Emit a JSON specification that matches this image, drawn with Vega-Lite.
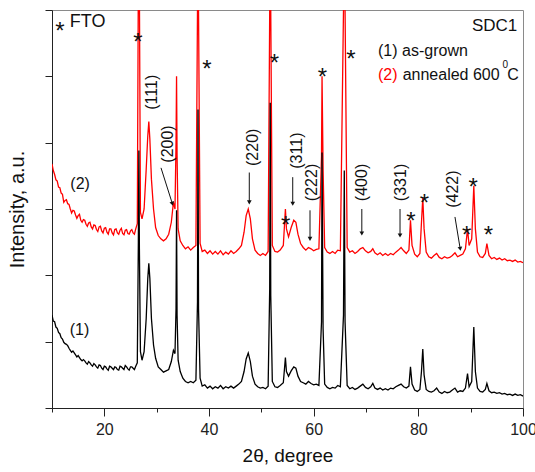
{
"$schema": "https://vega.github.io/schema/vega-lite/v6.json",
"width": 471, "height": 398,
"autosize": {"type": "none"},
"padding": {"left": 52, "top": 10, "right": 12, "bottom": 64},
"background": "white",
"config": {"font": "Liberation Sans", "view": {"stroke": "#8a8a8a", "strokeWidth": 1}},
"datasets": {
"c1": [
{"t":10.0,"i":1.40},{"t":10.25,"i":1.31},{"t":10.5,"i":1.30},{"t":10.75,"i":1.22},{"t":11.0,"i":1.20},{"t":11.25,"i":1.14},{"t":11.5,"i":1.12},{"t":11.75,"i":1.06},{"t":12.0,"i":1.04},{"t":12.5,"i":0.97},{"t":13.0,"i":0.94},{"t":13.5,"i":0.87},{"t":14.0,"i":0.86},{"t":14.5,"i":0.80},{"t":15.0,"i":0.79},{"t":15.5,"i":0.73},{"t":16.0,"i":0.73},{"t":16.5,"i":0.68},{"t":17.0,"i":0.70},{"t":17.5,"i":0.65},{"t":18.0,"i":0.67},{"t":18.5,"i":0.62},{"t":19.0,"i":0.65},{"t":19.5,"i":0.60},{"t":20.0,"i":0.63},{"t":20.5,"i":0.59},{"t":21.0,"i":0.63},{"t":21.5,"i":0.60},{"t":22.0,"i":0.62},{"t":22.5,"i":0.58},{"t":23.0,"i":0.63},{"t":23.5,"i":0.60},{"t":24.0,"i":0.64},{"t":24.5,"i":0.59},{"t":25.0,"i":0.62},{"t":25.5,"i":0.60},{"t":26.0,"i":0.63},{"t":26.3,"i":0.68},{"t":26.5,"i":2.5},{"t":26.6,"i":3.88},{"t":26.7,"i":2.4},{"t":26.9,"i":0.85},{"t":27.2,"i":0.72},{"t":27.6,"i":0.85},{"t":28.0,"i":1.35},{"t":28.3,"i":1.95},{"t":28.5,"i":2.18},{"t":28.7,"i":1.95},{"t":29.0,"i":1.35},{"t":29.4,"i":0.95},{"t":29.8,"i":0.75},{"t":30.3,"i":0.62},{"t":30.8,"i":0.58},{"t":31.3,"i":0.54},{"t":31.8,"i":0.56},{"t":32.3,"i":0.58},{"t":32.8,"i":0.70},{"t":33.2,"i":0.87},{"t":33.5,"i":0.82},{"t":33.7,"i":1.5},{"t":33.8,"i":2.98},{"t":33.9,"i":1.4},{"t":34.1,"i":0.72},{"t":34.5,"i":0.55},{"t":35.0,"i":0.45},{"t":35.5,"i":0.40},{"t":36.0,"i":0.38},{"t":36.5,"i":0.40},{"t":37.0,"i":0.38},{"t":37.5,"i":0.42},{"t":37.8,"i":1.6},{"t":37.9,"i":4.5},{"t":38.0,"i":1.5},{"t":38.3,"i":0.45},{"t":38.7,"i":0.33},{"t":39.2,"i":0.35},{"t":39.7,"i":0.30},{"t":40.2,"i":0.33},{"t":40.7,"i":0.29},{"t":41.2,"i":0.32},{"t":41.7,"i":0.30},{"t":42.2,"i":0.34},{"t":42.7,"i":0.29},{"t":43.2,"i":0.32},{"t":43.7,"i":0.30},{"t":44.2,"i":0.33},{"t":44.7,"i":0.30},{"t":45.2,"i":0.33},{"t":45.7,"i":0.36},{"t":46.2,"i":0.40},{"t":46.7,"i":0.55},{"t":47.1,"i":0.74},{"t":47.5,"i":0.83},{"t":47.9,"i":0.70},{"t":48.3,"i":0.48},{"t":48.8,"i":0.36},{"t":49.3,"i":0.32},{"t":49.8,"i":0.30},{"t":50.3,"i":0.31},{"t":50.8,"i":0.29},{"t":51.3,"i":0.33},{"t":51.6,"i":1.8},{"t":51.7,"i":4.6},{"t":51.8,"i":1.7},{"t":52.1,"i":0.40},{"t":52.6,"i":0.32},{"t":53.1,"i":0.31},{"t":53.6,"i":0.34},{"t":54.2,"i":0.38},{"t":54.6,"i":0.76},{"t":54.8,"i":0.55},{"t":55.2,"i":0.48},{"t":55.7,"i":0.56},{"t":56.2,"i":0.62},{"t":56.6,"i":0.60},{"t":57.0,"i":0.48},{"t":57.5,"i":0.40},{"t":58.0,"i":0.38},{"t":58.5,"i":0.36},{"t":59.0,"i":0.40},{"t":59.5,"i":0.37},{"t":60.0,"i":0.35},{"t":60.5,"i":0.36},{"t":61.0,"i":0.34},{"t":61.5,"i":1.3},{"t":61.6,"i":3.85},{"t":61.8,"i":1.2},{"t":62.1,"i":0.36},{"t":62.6,"i":0.31},{"t":63.1,"i":0.29},{"t":63.6,"i":0.31},{"t":64.1,"i":0.30},{"t":64.6,"i":0.34},{"t":65.1,"i":0.32},{"t":65.7,"i":1.4},{"t":65.85,"i":3.58},{"t":66.0,"i":1.3},{"t":66.4,"i":0.34},{"t":66.9,"i":0.29},{"t":67.4,"i":0.31},{"t":67.9,"i":0.28},{"t":68.4,"i":0.30},{"t":68.9,"i":0.33},{"t":69.4,"i":0.36},{"t":69.9,"i":0.31},{"t":70.4,"i":0.29},{"t":70.9,"i":0.32},{"t":71.3,"i":0.37},{"t":71.7,"i":0.30},{"t":72.2,"i":0.28},{"t":72.7,"i":0.30},{"t":73.2,"i":0.27},{"t":73.7,"i":0.29},{"t":74.2,"i":0.27},{"t":74.7,"i":0.30},{"t":75.2,"i":0.29},{"t":75.7,"i":0.32},{"t":76.2,"i":0.34},{"t":76.7,"i":0.36},{"t":77.2,"i":0.32},{"t":77.7,"i":0.30},{"t":78.2,"i":0.33},{"t":78.5,"i":0.62},{"t":78.8,"i":0.36},{"t":79.3,"i":0.27},{"t":79.8,"i":0.25},{"t":80.3,"i":0.28},{"t":80.6,"i":0.55},{"t":80.85,"i":0.89},{"t":81.1,"i":0.50},{"t":81.5,"i":0.28},{"t":82.0,"i":0.25},{"t":82.5,"i":0.24},{"t":83.0,"i":0.26},{"t":83.5,"i":0.30},{"t":84.0,"i":0.24},{"t":84.5,"i":0.22},{"t":85.0,"i":0.25},{"t":85.5,"i":0.23},{"t":86.0,"i":0.24},{"t":86.5,"i":0.27},{"t":87.0,"i":0.30},{"t":87.5,"i":0.24},{"t":88.0,"i":0.26},{"t":88.5,"i":0.25},{"t":89.0,"i":0.30},{"t":89.4,"i":0.52},{"t":89.7,"i":0.32},{"t":90.2,"i":0.40},{"t":90.6,"i":1.22},{"t":90.9,"i":0.55},{"t":91.3,"i":0.30},{"t":91.8,"i":0.25},{"t":92.3,"i":0.24},{"t":92.8,"i":0.28},{"t":93.1,"i":0.37},{"t":93.5,"i":0.26},{"t":94.0,"i":0.23},{"t":94.5,"i":0.24},{"t":95.0,"i":0.22},{"t":95.5,"i":0.23},{"t":96.0,"i":0.21},{"t":96.5,"i":0.22},{"t":97.0,"i":0.20},{"t":97.5,"i":0.21},{"t":98.0,"i":0.19},{"t":98.5,"i":0.21},{"t":99.0,"i":0.19},{"t":99.5,"i":0.20},{"t":100.0,"i":0.18},
{"t":12.25,"i":0.99},{"t":12.75,"i":0.96},{"t":13.25,"i":0.90},{"t":13.75,"i":0.84},{"t":14.25,"i":0.83},{"t":14.75,"i":0.77},{"t":15.25,"i":0.76},{"t":15.75,"i":0.71},{"t":16.25,"i":0.71},{"t":16.75,"i":0.66},{"t":17.25,"i":0.68},{"t":17.75,"i":0.63},{"t":18.25,"i":0.65},{"t":18.75,"i":0.60},{"t":19.25,"i":0.64},{"t":19.75,"i":0.58},{"t":20.25,"i":0.62},{"t":20.75,"i":0.57},{"t":21.25,"i":0.62},{"t":21.75,"i":0.58},{"t":22.25,"i":0.61},{"t":22.75,"i":0.57},{"t":23.25,"i":0.62},{"t":23.75,"i":0.58},{"t":24.25,"i":0.62},{"t":24.75,"i":0.57},{"t":25.25,"i":0.62},{"t":25.75,"i":0.58}
],
"c2": [
{"t":10.0,"i":3.68},{"t":10.25,"i":3.58},{"t":10.5,"i":3.52},{"t":10.75,"i":3.44},{"t":11.0,"i":3.42},{"t":11.25,"i":3.33},{"t":11.5,"i":3.32},{"t":11.75,"i":3.24},{"t":12.0,"i":3.22},{"t":12.5,"i":3.13},{"t":13.0,"i":3.08},{"t":13.5,"i":3.00},{"t":14.0,"i":2.98},{"t":14.5,"i":2.91},{"t":15.0,"i":2.90},{"t":15.5,"i":2.83},{"t":16.0,"i":2.84},{"t":16.5,"i":2.77},{"t":17.0,"i":2.79},{"t":17.5,"i":2.73},{"t":18.0,"i":2.76},{"t":18.5,"i":2.69},{"t":19.0,"i":2.73},{"t":19.5,"i":2.67},{"t":20.0,"i":2.71},{"t":20.5,"i":2.65},{"t":21.0,"i":2.70},{"t":21.5,"i":2.64},{"t":22.0,"i":2.69},{"t":22.5,"i":2.64},{"t":23.0,"i":2.68},{"t":23.5,"i":2.63},{"t":24.0,"i":2.68},{"t":24.5,"i":2.63},{"t":25.0,"i":2.67},{"t":25.5,"i":2.64},{"t":26.0,"i":2.70},{"t":26.3,"i":2.78},{"t":26.5,"i":6.5},{"t":26.6,"i":9},{"t":26.7,"i":6.3},{"t":26.9,"i":2.95},{"t":27.2,"i":2.85},{"t":27.6,"i":3.0},{"t":28.0,"i":3.6},{"t":28.3,"i":4.1},{"t":28.5,"i":4.32},{"t":28.7,"i":4.05},{"t":29.0,"i":3.45},{"t":29.4,"i":3.0},{"t":29.8,"i":2.72},{"t":30.3,"i":2.60},{"t":30.8,"i":2.55},{"t":31.3,"i":2.52},{"t":31.8,"i":2.55},{"t":32.3,"i":2.62},{"t":32.8,"i":2.80},{"t":33.2,"i":3.10},{"t":33.5,"i":3.00},{"t":33.7,"i":4.0},{"t":33.8,"i":5.0},{"t":33.9,"i":3.8},{"t":34.1,"i":2.70},{"t":34.5,"i":2.52},{"t":35.0,"i":2.45},{"t":35.5,"i":2.40},{"t":36.0,"i":2.43},{"t":36.5,"i":2.38},{"t":37.0,"i":2.42},{"t":37.5,"i":2.45},{"t":37.8,"i":6},{"t":37.9,"i":9},{"t":38.0,"i":6},{"t":38.3,"i":2.48},{"t":38.7,"i":2.36},{"t":39.2,"i":2.38},{"t":39.7,"i":2.33},{"t":40.2,"i":2.37},{"t":40.7,"i":2.32},{"t":41.2,"i":2.36},{"t":41.7,"i":2.32},{"t":42.2,"i":2.37},{"t":42.7,"i":2.31},{"t":43.2,"i":2.35},{"t":43.7,"i":2.32},{"t":44.2,"i":2.37},{"t":44.7,"i":2.33},{"t":45.2,"i":2.36},{"t":45.7,"i":2.40},{"t":46.2,"i":2.45},{"t":46.7,"i":2.65},{"t":47.1,"i":2.90},{"t":47.5,"i":3.00},{"t":47.9,"i":2.85},{"t":48.3,"i":2.55},{"t":48.8,"i":2.38},{"t":49.3,"i":2.33},{"t":49.8,"i":2.30},{"t":50.3,"i":2.33},{"t":50.8,"i":2.30},{"t":51.3,"i":2.36},{"t":51.6,"i":6},{"t":51.7,"i":9},{"t":51.8,"i":6},{"t":52.1,"i":2.45},{"t":52.6,"i":2.36},{"t":53.1,"i":2.35},{"t":53.6,"i":2.38},{"t":54.2,"i":2.45},{"t":54.6,"i":3.0},{"t":54.8,"i":2.70},{"t":55.2,"i":2.58},{"t":55.7,"i":2.72},{"t":56.2,"i":2.83},{"t":56.6,"i":2.80},{"t":57.0,"i":2.62},{"t":57.5,"i":2.48},{"t":58.0,"i":2.42},{"t":58.5,"i":2.38},{"t":59.0,"i":2.42},{"t":59.5,"i":2.40},{"t":60.0,"i":2.37},{"t":60.5,"i":2.39},{"t":61.0,"i":2.40},{"t":61.5,"i":3.8},{"t":61.6,"i":5.0},{"t":61.8,"i":3.6},{"t":62.1,"i":2.42},{"t":62.6,"i":2.35},{"t":63.1,"i":2.33},{"t":63.6,"i":2.36},{"t":64.1,"i":2.33},{"t":64.6,"i":2.38},{"t":65.1,"i":2.37},{"t":65.7,"i":6},{"t":65.85,"i":9},{"t":66.0,"i":6},{"t":66.4,"i":2.42},{"t":66.9,"i":2.35},{"t":67.4,"i":2.37},{"t":67.9,"i":2.33},{"t":68.4,"i":2.36},{"t":68.9,"i":2.40},{"t":69.4,"i":2.42},{"t":69.9,"i":2.37},{"t":70.4,"i":2.34},{"t":70.9,"i":2.36},{"t":71.3,"i":2.40},{"t":71.7,"i":2.34},{"t":72.2,"i":2.31},{"t":72.7,"i":2.34},{"t":73.2,"i":2.30},{"t":73.7,"i":2.33},{"t":74.2,"i":2.30},{"t":74.7,"i":2.33},{"t":75.2,"i":2.31},{"t":75.7,"i":2.35},{"t":76.2,"i":2.38},{"t":76.7,"i":2.42},{"t":77.2,"i":2.37},{"t":77.7,"i":2.33},{"t":78.2,"i":2.38},{"t":78.5,"i":2.83},{"t":78.8,"i":2.45},{"t":79.3,"i":2.32},{"t":79.8,"i":2.28},{"t":80.3,"i":2.33},{"t":80.6,"i":2.80},{"t":80.85,"i":3.17},{"t":81.1,"i":2.70},{"t":81.5,"i":2.35},{"t":82.0,"i":2.28},{"t":82.5,"i":2.26},{"t":83.0,"i":2.30},{"t":83.5,"i":2.33},{"t":84.0,"i":2.27},{"t":84.5,"i":2.25},{"t":85.0,"i":2.28},{"t":85.5,"i":2.26},{"t":86.0,"i":2.27},{"t":86.5,"i":2.30},{"t":87.0,"i":2.34},{"t":87.5,"i":2.28},{"t":88.0,"i":2.30},{"t":88.5,"i":2.32},{"t":89.0,"i":2.40},{"t":89.4,"i":2.70},{"t":89.7,"i":2.45},{"t":90.2,"i":2.55},{"t":90.6,"i":3.35},{"t":90.9,"i":2.70},{"t":91.3,"i":2.35},{"t":91.8,"i":2.28},{"t":92.3,"i":2.27},{"t":92.8,"i":2.33},{"t":93.1,"i":2.48},{"t":93.5,"i":2.30},{"t":94.0,"i":2.25},{"t":94.5,"i":2.27},{"t":95.0,"i":2.24},{"t":95.5,"i":2.26},{"t":96.0,"i":2.23},{"t":96.5,"i":2.25},{"t":97.0,"i":2.22},{"t":97.5,"i":2.23},{"t":98.0,"i":2.21},{"t":98.5,"i":2.23},{"t":99.0,"i":2.20},{"t":99.5,"i":2.21},{"t":100.0,"i":2.19},
{"t":12.25,"i":3.10},{"t":12.75,"i":3.14},{"t":13.25,"i":3.07},{"t":13.75,"i":2.94},{"t":14.25,"i":2.97},{"t":14.75,"i":2.86},{"t":15.25,"i":2.92},{"t":15.75,"i":2.80},{"t":16.25,"i":2.83},{"t":16.75,"i":2.74},{"t":17.25,"i":2.80},{"t":17.75,"i":2.70},{"t":18.25,"i":2.75},{"t":18.75,"i":2.66},{"t":19.25,"i":2.74},{"t":19.75,"i":2.64},{"t":20.25,"i":2.72},{"t":20.75,"i":2.62},{"t":21.25,"i":2.70},{"t":21.75,"i":2.61},{"t":22.25,"i":2.70},{"t":22.75,"i":2.62},{"t":23.25,"i":2.71},{"t":23.75,"i":2.61},{"t":24.25,"i":2.69},{"t":24.75,"i":2.62},{"t":25.25,"i":2.69},{"t":25.75,"i":2.62}
],
"stars": [
{"t":26.4,"i":5.59},{"t":39.6,"i":5.19},{"t":52.5,"i":5.28},{"t":61.65,"i":5.06},{"t":67.1,"i":5.34},{"t":54.65,"i":2.84},{"t":78.6,"i":2.89},{"t":81.15,"i":3.16},{"t":89.25,"i":2.69},{"t":90.5,"i":3.4},{"t":93.4,"i":2.69},{"t":11.5,"i":5.76}
],
"hkl": [
{"t":29.05,"i":4.76,"txt":"(111)"},{"t":32.2,"i":3.98,"txt":"(200)"},{"t":48.5,"i":3.93,"txt":"(220)"},{"t":56.75,"i":3.88,"txt":"(311)"},{"t":59.6,"i":3.4,"txt":"(222)"},{"t":69.2,"i":3.4,"txt":"(400)"},{"t":76.7,"i":3.4,"txt":"(331)"},{"t":86.7,"i":3.3,"txt":"(422)"}
],
"arrows": [
{"t":30.83,"i":3.62,"t2":33.0,"i2":3.08},{"t":47.7,"i":3.55,"t2":47.7,"i2":3.1},{"t":56.0,"i":3.48,"t2":56.0,"i2":3.08},{"t":59.3,"i":2.98,"t2":59.3,"i2":2.55},{"t":69.2,"i":3.0,"t2":69.2,"i2":2.63},{"t":76.5,"i":3.0,"t2":76.5,"i2":2.6},{"t":87.0,"i":2.88,"t2":88.0,"i2":2.4}
],
"heads": [
{"t":33.0,"i":3.08,"a":343},{"t":47.7,"i":3.1,"a":0},{"t":56.0,"i":3.08,"a":0},{"t":59.3,"i":2.55,"a":0},{"t":69.2,"i":2.63,"a":0},{"t":76.5,"i":2.6,"a":0},{"t":88.0,"i":2.4,"a":351}
],
"labels": [
{"t":13.4,"i":5.82,"txt":"FTO","fs":18,"c":"#111"},
{"t":72.3,"i":5.38,"txt":"(1) as-grown","fs":16,"c":"#111"},
{"t":72.3,"i":5.02,"txt":"(2)","fs":16,"c":"#ff0000"},
{"t":77.0,"i":5.02,"txt":"annealed 600","fs":16,"c":"#111"},
{"t":96.1,"i":5.17,"txt":"0","fs":10,"c":"#111"},
{"t":97.0,"i":5.02,"txt":"C","fs":16,"c":"#111"},
{"t":13.5,"i":3.38,"txt":"(2)","fs":16,"c":"#111"},
{"t":13.4,"i":1.17,"txt":"(1)","fs":16,"c":"#111"}
],
"rlabels": [
{"t":98.9,"i":5.76,"txt":"SDC1"}
]
},
"encoding": {
"x": {"field": "t", "type": "quantitative",
 "scale": {"domain": [10, 100], "nice": false, "zero": false},
 "axis": {"title": "2θ, degree", "values": [10,20,30,40,50,60,70,80,90,100],
  "labelExpr": "datum.value % 20 == 0 ? datum.label : ''",
  "grid": false, "domainColor": "#222", "tickColor": "#222",
  "tickSize": {"condition": {"test": "datum.value % 20 == 0", "value": 8}, "value": 4},
  "labelFontSize": 16, "labelColor": "#222", "labelPadding": 5, "labelFlush": false,
  "titleFontSize": 19, "titleFontWeight": "normal", "titleColor": "#111", "titlePadding": 9}},
"y": {"field": "i", "type": "quantitative",
 "scale": {"domain": [0, 6], "nice": false, "zero": false},
 "axis": {"title": "Intensity, a.u.", "values": [0,1,2,3,4,5,6], "labels": false,
  "grid": false, "domainColor": "#222", "tickColor": "#222", "tickSize": 7,
  "titleFontSize": 20, "titleFontWeight": "normal", "titleColor": "#111", "titlePadding": 17}}
},
"layer": [
{"data": {"name": "c2"}, "mark": {"type": "line", "color": "#ff0000", "strokeWidth": 1.3, "clip": true}},
{"data": {"name": "c1"}, "mark": {"type": "line", "color": "#000000", "strokeWidth": 1.3, "clip": true}},
{"data": {"name": "stars"}, "mark": {"type": "text", "text": "*", "fontSize": 24, "baseline": "alphabetic", "dy": 13, "align": "center", "color": "#111"}},
{"data": {"name": "hkl"}, "mark": {"type": "text", "angle": 270, "fontSize": 16, "align": "center", "baseline": "middle", "color": "#111"}, "encoding": {"text": {"field": "txt"}}},
{"data": {"name": "arrows"}, "mark": {"type": "rule", "color": "#111", "strokeWidth": 1}, "encoding": {"x2": {"field": "t2"}, "y2": {"field": "i2"}}},
{"data": {"name": "heads"}, "mark": {"type": "point", "shape": "triangle-down", "filled": true, "size": 22, "color": "#111", "opacity": 1, "dy": -3}, "encoding": {"angle": {"field": "a", "type": "quantitative", "scale": null}}},
{"data": {"name": "labels"}, "mark": {"type": "text", "baseline": "middle", "align": "left"}, "encoding": {"text": {"field": "txt"}, "size": {"field": "fs", "type": "quantitative", "scale": null}, "color": {"field": "c", "type": "nominal", "scale": null}}},
{"data": {"name": "rlabels"}, "mark": {"type": "text", "baseline": "middle", "align": "right", "fontSize": 17, "color": "#111"}, "encoding": {"text": {"field": "txt"}}}
]
}
